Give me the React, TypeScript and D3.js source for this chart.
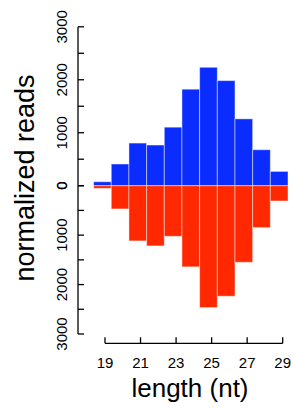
import React, { useRef, useEffect } from 'react';
import * as d3 from 'd3';

// read lengths (nt) and normalized read counts
const lengths = [19, 20, 21, 22, 23, 24, 25, 26, 27, 28, 29];
const plusReads = [75, 410, 805, 768, 1105, 1822, 2236, 1984, 1262, 679, 270];
const minusReads = [55, 470, 1117, 1218, 1024, 1642, 2465, 2236, 1549, 848, 309];
const yTicks = [0, 500, 1000, 1500, 2000, 2500, 3000];
const yLabels = [0, 1000, 2000, 3000];
const xTicks = [19, 21, 23, 25, 27, 29];

const BLUE = '#0b2cff';
const RED = '#ff2800';

const App = () => {
  const svgRef = useRef(null);

  useEffect(() => {
    if (!svgRef.current) return;
    const svg = d3.select(svgRef.current);
    svg.selectAll('*').remove();

    const font = 'Liberation Sans, Arial, Helvetica, sans-serif';
    const axisX = 78;

    // bars sit on a band scale, the axis on a linear one (as in the original)
    const xBand = d3
      .scaleBand()
      .domain(lengths.map(String))
      .range([93.6, 288])
      .padding(0);
    const xAxis = d3.scaleLinear().domain([19, 29]).range([105, 282.7]);

    const yTop = d3.scaleLinear().domain([0, 3000]).range([185.7, 26.8]);
    const yBot = d3.scaleLinear().domain([0, 3000]).range([185.7, 334]);

    // upper bars
    svg
      .selectAll('.plus')
      .data(plusReads)
      .enter()
      .append('rect')
      .attr('x', (d, i) => xBand(String(lengths[i])))
      .attr('y', d => yTop(d))
      .attr('width', xBand.bandwidth())
      .attr('height', d => yTop(0) - yTop(d))
      .attr('fill', BLUE)
      .attr('stroke', 'rgba(255,255,255,0.45)')
      .attr('stroke-width', 1);

    // lower bars
    svg
      .selectAll('.minus')
      .data(minusReads)
      .enter()
      .append('rect')
      .attr('x', (d, i) => xBand(String(lengths[i])))
      .attr('y', yBot(0))
      .attr('width', xBand.bandwidth())
      .attr('height', d => yBot(d) - yBot(0))
      .attr('fill', RED)
      .attr('stroke', 'rgba(255,255,255,0.45)')
      .attr('stroke-width', 1);

    // y axis (ticks point inwards)
    const g = svg.append('g').attr('stroke', '#000').attr('stroke-width', 1.3);
    g.append('line')
      .attr('x1', axisX)
      .attr('x2', axisX)
      .attr('y1', yTop(3000))
      .attr('y2', yBot(3000));
    [yTop, yBot].forEach(sc => {
      yTicks.forEach(t => {
        g.append('line')
          .attr('x1', axisX)
          .attr('x2', axisX + 6)
          .attr('y1', sc(t))
          .attr('y2', sc(t));
      });
    });

    [yTop, yBot].forEach(sc => {
      yLabels.forEach(t => {
        svg
          .append('text')
          .attr('transform', `translate(66.5, ${sc(t)}) rotate(-90)`)
          .attr('text-anchor', 'middle')
          .attr('font-family', font)
          .attr('font-size', 15)
          .text(t);
      });
    });

    // x axis (ticks point upwards)
    g.append('line')
      .attr('x1', xAxis(19))
      .attr('x2', xAxis(29))
      .attr('y1', 343.3)
      .attr('y2', 343.3);
    xTicks.forEach(t => {
      g.append('line')
        .attr('x1', xAxis(t))
        .attr('x2', xAxis(t))
        .attr('y1', 343.3)
        .attr('y2', 337.3);
      svg
        .append('text')
        .attr('x', xAxis(t))
        .attr('y', 367.7)
        .attr('text-anchor', 'middle')
        .attr('font-family', font)
        .attr('font-size', 15)
        .text(t);
    });

    // axis titles
    svg
      .append('text')
      .attr('x', 190)
      .attr('y', 396.7)
      .attr('text-anchor', 'middle')
      .attr('font-family', font)
      .attr('font-size', 26)
      .text('length (nt)');

    svg
      .append('text')
      .attr('transform', 'translate(34, 178) rotate(-90)')
      .attr('text-anchor', 'middle')
      .attr('font-family', font)
      .attr('font-size', 27)
      .text('normalized reads');
  }, []);

  return (
    <svg
      ref={svgRef}
      width={291}
      height={408}
      style={{ position: 'absolute', left: 0, top: 0, background: '#fff' }}
    ></svg>
  );
};

export default App;
